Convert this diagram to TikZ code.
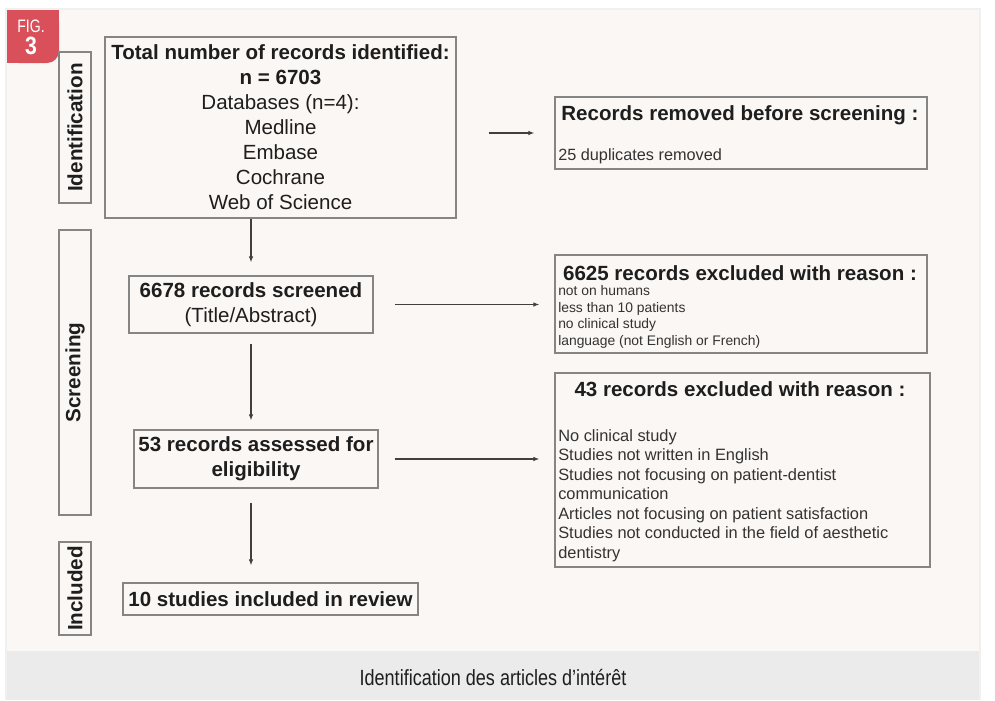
\documentclass[tikz,border=0pt]{standalone}
\usepackage{fontspec}
\usepackage{graphicx}
\setmainfont{Liberation Sans}
\usetikzlibrary{arrows.meta}
\definecolor{panelbg}{HTML}{FBF7F4}
\definecolor{capbg}{HTML}{EBEBEB}
\definecolor{figred}{HTML}{D9505A}
\definecolor{boxline}{HTML}{858585}
\definecolor{txt}{HTML}{1E1E1E}
\definecolor{listtxt}{HTML}{333333}

\begin{document}
\begin{tikzpicture}[x=0.75pt,y=-0.75pt,
	box/.style={draw=boxline,line width=1.1pt,inner sep=0pt,text=txt,align=center,
		font=\fontsize{15.4}{18.75}\selectfont},
	phase/.style={box,rotate=90,minimum height=24pt,font=\bfseries\fontsize{15.5}{18}\selectfont},
	head/.style={inner sep=0pt,text=txt,font=\bfseries\fontsize{15.4}{18.75}\selectfont},
	reasons/.style={inner sep=0pt,text=listtxt,align=left,anchor=west},
	flow/.style={draw=txt!85,line width=0.8pt,-{Latex[length=4.5pt,width=3.5pt]}}]
	\fill[white] (0,0) rectangle (995,700);
	\fill[black!6] (5,8) rectangle (981,700);
	\fill[panelbg] (7,10) rectangle (979,651);
	\fill[capbg] (7,651) rectangle (979,700);
	\fill[figred,rounded corners=9pt] (7,10) rectangle (59,63);
	\fill[figred] (7,10) rectangle (40,63);
	\fill[figred] (7,10) rectangle (59,40);
	\node[text=white,inner sep=0pt,font=\fontsize{13.5}{14}\selectfont] (figword) at (31,26) {\scalebox{0.78}[1]{FIG.}};
	\node[text=white,inner sep=0pt,font=\bfseries\fontsize{18.75}{20}\selectfont] (fignum) at (31,46) {\scalebox{0.85}[1]{3}};

	\node[phase,minimum width=113.25pt] (identif) at (75,127.5) {Identification};
	\node[phase,minimum width=213.75pt] (screen) at (75,372.5) {Screening};
	\node[phase,minimum width=69.75pt] (incl) at (75,588.5) {Included};

	\node[box,minimum width=263.25pt,minimum height=135.75pt] (total) at (280.5,127.5)
		{{\bfseries Total number of records identified:}\\{\bfseries n = 6703}\\Databases (n=4):\\Medline\\Embase\\Cochrane\\Web of Science};
	\node[box,minimum width=183pt,minimum height=42.75pt] (screened) at (251,304.5)
		{{\bfseries 6678 records screened}\\(Title/Abstract)};
	\node[box,minimum width=183pt,minimum height=43.5pt,font=\bfseries\fontsize{15.4}{18.75}\selectfont] (eligible) at (256,459)
		{53 records assessed for\\eligibility};
	\node[box,minimum width=221.25pt,minimum height=24pt,font=\bfseries\fontsize{15.4}{18.75}\selectfont] (included) at (270.5,599)
		{10 studies included in review};

	\node[box,minimum width=279pt,minimum height=54pt] (removed) at (741,133) {};
	\node[box,minimum width=279pt,minimum height=73.5pt] (excluded) at (741,304) {};
	\node[box,minimum width=281.25pt,minimum height=145.5pt] (rejected) at (742.5,470) {};

	\node[head] (removedhead) at (740,115) {Records removed before screening :};
	\node[reasons,font=\fontsize{12.2}{14}\selectfont] (removedlist) at (558,156) {25 duplicates removed};
	\node[head] (excludedhead) at (740,273) {6625 records excluded with reason :};
	\node[reasons,font=\fontsize{10.4}{12.4}\selectfont] (excludedlist) at (558,317)
		{not on humans\\less than 10 patients\\no clinical study\\language (not English or French)};
	\node[head] (rejectedhead) at (740,389) {43 records excluded with reason :};
	\node[reasons,font=\fontsize{12.3}{14.6}\selectfont] (rejectedlist) at (558,495.5)
		{No clinical study\\Studies not written in English\\Studies not focusing on patient-dentist\\communication\\Articles not focusing on patient satisfaction\\Studies not conducted in the field of aesthetic\\dentistry};

	\draw[flow,shorten >=9.75pt] (total.south -| screened.north) -- (screened.north);
	\draw[flow,shorten <=7.5pt,shorten >=6.75pt] (screened.south) -- (screened.south |- eligible.north);
	\draw[flow,shorten <=10.5pt,shorten >=12.75pt] (eligible.south -| screened.south) -- (screened.south |- included.north);
	\draw[flow,shorten <=24pt,shorten >=15pt] (total.east |- removed.west) -- (removed.west);
	\draw[flow,shorten <=15.75pt,shorten >=11.25pt] (screened.east) -- (screened.east -| excluded.west);
	\draw[flow,shorten <=12pt,shorten >=11.25pt] (eligible.east) -- (eligible.east -| rejected.west);

	\node[inner sep=0pt,text=txt,font=\fontsize{16.5}{18}\selectfont] (caption) at (493,677)
		{\scalebox{0.82}[1]{Identification des articles d’intérêt}};
\end{tikzpicture}
\end{document}
